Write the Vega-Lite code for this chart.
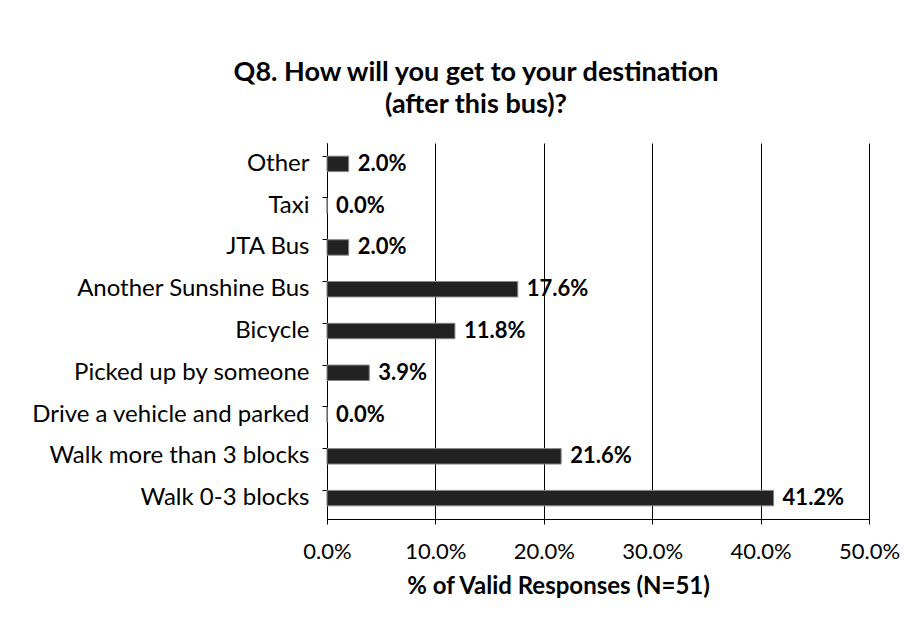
{
  "$schema": "https://vega.github.io/schema/vega-lite/v6.json",
  "width": 542,
  "height": 376,
  "autosize": {"type": "none"},
  "padding": {"left": 327, "top": 143, "right": 49, "bottom": 115},
  "background": "white",
  "config": {
    "font": "Lato",
    "view": {"stroke": null},
    "axis": {"labelColor": "#000", "titleColor": "#000", "domainColor": "#000", "tickColor": "#000", "gridColor": "#000", "gridOpacity": 1}
  },
  "title": {
    "text": ["Q8. How will you get to your destination", "(after this bus)?"],
    "font": "Lato",
    "fontSize": 27,
    "fontWeight": "bold",
    "color": "#000",
    "anchor": "middle",
    "dx": -122,
    "offset": 24,
    "lineHeight": 32
  },
  "data": {
    "values": [
      {"mode": "Other", "pct": 0.020},
      {"mode": "Taxi", "pct": 0.000},
      {"mode": "JTA Bus", "pct": 0.020},
      {"mode": "Another Sunshine Bus", "pct": 0.176},
      {"mode": "Bicycle", "pct": 0.118},
      {"mode": "Picked up by someone", "pct": 0.039},
      {"mode": "Drive a vehicle and parked", "pct": 0.000},
      {"mode": "Walk more than 3 blocks", "pct": 0.216},
      {"mode": "Walk 0-3 blocks", "pct": 0.412}
    ]
  },
  "encoding": {
    "y": {
      "field": "mode",
      "type": "nominal",
      "sort": null,
      "scale": {"paddingInner": 0.63, "paddingOuter": 0.315},
      "axis": {
        "title": null,
        "labelFontSize": 24,
        "labelLimit": 320,
        "labelPadding": 13,
        "tickSize": 5,
        "bandPosition": 0,
        "domainWidth": 1
      }
    },
    "x": {
      "field": "pct",
      "type": "quantitative",
      "scale": {"domain": [0, 0.5], "nice": false},
      "axis": {
        "title": "% of Valid Responses (N=51)",
        "titleFontSize": 24,
        "titleFontWeight": "bold",
        "titlePadding": 12,
        "titleX": 231,
        "titleAnchor": "start",
        "titleAlign": "center",
        "format": ".1%",
        "values": [0, 0.1, 0.2, 0.3, 0.4, 0.5],
        "labelFontSize": 22,
        "labelFlush": false,
        "labelPadding": 17,
        "tickSize": 5,
        "grid": true,
        "gridWidth": 1
      }
    }
  },
  "layer": [
    {
      "mark": {"type": "bar", "color": "#222222", "stroke": "#888888", "strokeWidth": 1}
    },
    {
      "mark": {"type": "text", "align": "left", "baseline": "middle", "dx": 9, "fontSize": 22, "fontWeight": "bold", "color": "#000"},
      "encoding": {"text": {"field": "pct", "type": "quantitative", "format": ".1%"}}
    }
  ]
}
